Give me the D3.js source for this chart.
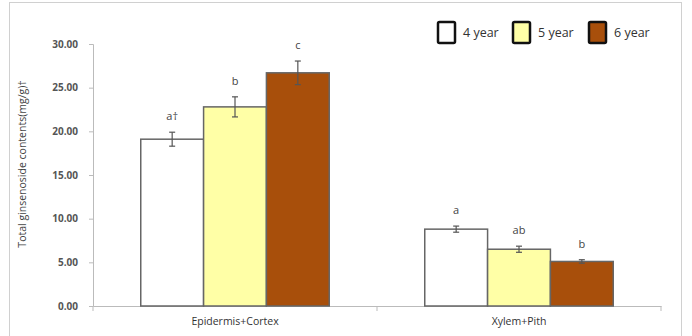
<!DOCTYPE html>
<html>
<head>
<meta charset="utf-8">
<script src="https://cdn.jsdelivr.net/npm/d3@7"></script>
<style>
  body { margin: 0; background: #fff; }
  svg text { font-family: "Open Sans", "DejaVu Sans", sans-serif; }
</style>
</head>
<body>
<svg id="chart" width="692" height="336"></svg>
<script>
// data
var tissues = ['Epidermis+Cortex', 'Xylem+Pith'];
var ages = ['4 year', '5 year', '6 year'];
var ageColors = ['#ffffff', '#ffffa6', '#a84f0b'];
var means = [
  [19.1, 22.8, 26.7],
  [8.8, 6.5, 5.1]
];
var errs = [
  [0.8, 1.15, 1.35],
  [0.35, 0.35, 0.2]
];
var letters = [
  ['a\u2020', 'b', 'c'],
  ['a', 'ab', 'b']
];
var yTicks = [0, 5, 10, 15, 20, 25, 30];

var svg = d3.select('#chart');

var margin = { left: 93, right: 31, top: 44, bottom: 30 },
  plotW = 692 - margin.left - margin.right,
  y0 = 306;

// outer frame
svg.append('rect')
  .attr('x', 9.5).attr('y', 2.5)
  .attr('width', 672).attr('height', 340)
  .attr('fill', 'none')
  .attr('stroke', '#d0d0d0');

var x = d3.scaleBand()
  .domain(tissues)
  .range([margin.left, margin.left + plotW])
  .paddingInner(0)
  .paddingOuter(0);

var xInner = d3.scaleBand()
  .domain(ages)
  .range([0, x.bandwidth()])
  .paddingInner(0)
  .paddingOuter(0.76);

var y = d3.scaleLinear().domain([0, 30]).range([y0, 44]);

// y axis
var yAxis = svg.append('g')
  .attr('transform', 'translate(' + margin.left + ',0)')
  .call(d3.axisLeft(y).tickValues(yTicks).tickFormat(d3.format('.2f')).tickSize(4).tickPadding(11));
yAxis.select('.domain').attr('stroke', '#bbb');
yAxis.selectAll('.tick line').attr('stroke', '#bbb');
yAxis.selectAll('.tick text')
  .attr('fill', '#555')
  .style('font-size', '10px')
  .style('font-weight', 'bold');

// x axis
var xAxis = svg.append('g')
  .attr('transform', 'translate(0,' + y0 + ')')
  .call(d3.axisBottom(x).tickSize(0).tickPadding(12));
xAxis.select('.domain').attr('stroke', '#bbb');
xAxis.selectAll('.tick text')
  .attr('fill', '#333')
  .style('font-size', '10.5px');
// category separators
svg.selectAll('.sep')
  .data(tissues.concat(['end']))
  .enter().append('line')
    .attr('x1', function(d, i) { return margin.left + i * x.bandwidth(); })
    .attr('x2', function(d, i) { return margin.left + i * x.bandwidth(); })
    .attr('y1', y0)
    .attr('y2', y0 + 5)
    .attr('stroke', '#bbb');

// y title
svg.append('text')
  .attr('transform', 'translate(26,' + 164 + ') rotate(-90)')
  .attr('text-anchor', 'middle')
  .attr('fill', '#444')
  .style('font-size', '10.5px')
  .text('Total ginsenoside contents(mg/g)\u2020');

// bars
var groups = svg.selectAll('.grp')
  .data(tissues)
  .enter().append('g')
    .attr('transform', function(d) { return 'translate(' + x(d) + ',0)'; });

groups.each(function(t, ti) {
  var g = d3.select(this);
  var rows = ages.map(function(a, ai) {
    return { age: a, v: means[ti][ai], e: errs[ti][ai], lab: letters[ti][ai], c: ageColors[ai] };
  });

  g.selectAll('rect')
    .data(rows)
    .enter().append('rect')
      .attr('x', function(d) { return xInner(d.age); })
      .attr('y', function(d) { return y(d.v); })
      .attr('width', xInner.bandwidth())
      .attr('height', function(d) { return y0 - y(d.v); })
      .attr('fill', function(d) { return d.c; })
      .attr('stroke', '#666')
      .attr('stroke-width', 1.5);

  var eb = g.selectAll('.eb')
    .data(rows)
    .enter().append('g')
      .attr('stroke', '#555')
      .attr('stroke-width', 1.2);
  eb.append('line')
    .attr('x1', function(d) { return xInner(d.age) + xInner.bandwidth() / 2; })
    .attr('x2', function(d) { return xInner(d.age) + xInner.bandwidth() / 2; })
    .attr('y1', function(d) { return y(d.v + d.e); })
    .attr('y2', function(d) { return y(d.v - d.e); });
  eb.append('line')
    .attr('x1', function(d) { return xInner(d.age) + xInner.bandwidth() / 2 - 3; })
    .attr('x2', function(d) { return xInner(d.age) + xInner.bandwidth() / 2 + 3; })
    .attr('y1', function(d) { return y(d.v + d.e); })
    .attr('y2', function(d) { return y(d.v + d.e); });
  eb.append('line')
    .attr('x1', function(d) { return xInner(d.age) + xInner.bandwidth() / 2 - 3; })
    .attr('x2', function(d) { return xInner(d.age) + xInner.bandwidth() / 2 + 3; })
    .attr('y1', function(d) { return y(d.v - d.e); })
    .attr('y2', function(d) { return y(d.v - d.e); });

  g.selectAll('.lab')
    .data(rows)
    .enter().append('text')
      .attr('x', function(d) { return xInner(d.age) + xInner.bandwidth() / 2; })
      .attr('y', function(d) { return y(d.v + d.e) - 12; })
      .attr('text-anchor', 'middle')
      .attr('fill', '#444')
      .style('font-size', '11px')
      .text(function(d) { return d.lab; });
});

// legend
var legX = [438, 513, 589];
var leg = svg.selectAll('.leg')
  .data(ages)
  .enter().append('g')
    .attr('transform', function(d, i) { return 'translate(' + legX[i] + ',22)'; });
leg.append('rect')
  .attr('width', 17).attr('height', 21)
  .attr('rx', 1.5)
  .attr('fill', function(d, i) { return ageColors[i]; })
  .attr('stroke', '#111')
  .attr('stroke-width', 2.5);
leg.append('text')
  .attr('x', 25).attr('y', 15)
  .attr('fill', '#333')
  .style('font-size', '12.5px')
  .text(function(d) { return d; });
</script>
</body>
</html>
